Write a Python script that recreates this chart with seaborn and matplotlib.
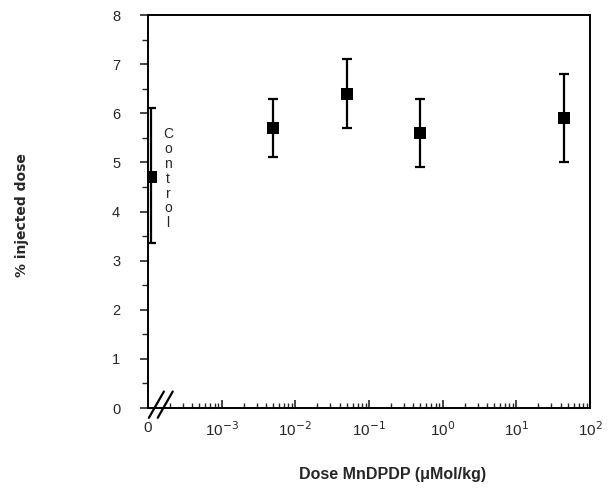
import matplotlib
matplotlib.use("Agg")
import matplotlib.pyplot as plt
import seaborn as sns
import numpy as np
import pandas as pd
from matplotlib.ticker import FixedLocator, LogLocator, NullFormatter, MultipleLocator

# Data
dose = [1.1e-4, 0.005, 0.05, 0.5, 45.0]          # control drawn at the axis break
pct_dose = [4.7, 5.7, 6.4, 5.6, 5.9]
err_low = [3.35, 5.1, 5.7, 4.9, 5.0]
err_high = [6.1, 6.3, 7.1, 6.3, 6.8]
x_tick_vals = [1e-4, 1e-3, 1e-2, 1e-1, 1e0, 1e1, 1e2]
x_tick_labels = ["0", "10$^{-3}$", "10$^{-2}$", "10$^{-1}$", "10$^{0}$", "10$^{1}$", "10$^{2}$"]
y_ticks = [0, 1, 2, 3, 4, 5, 6, 7, 8]

df = pd.DataFrame({"dose": dose, "pct": pct_dose})

sns.set_style("ticks")
plt.rcParams['font.family'] = ['Liberation Sans', 'DejaVu Sans']

fig = plt.figure(figsize=(6.11, 4.9), dpi=100)
ax = fig.add_axes([0.2422, 0.1673, 0.7234, 0.802])

yerr = [np.array(pct_dose) - np.array(err_low), np.array(err_high) - np.array(pct_dose)]
ax.errorbar(dose, pct_dose, yerr=yerr, fmt="none", ecolor="black",
            elinewidth=1.6, capsize=3.5, capthick=1.6, zorder=2)
sns.scatterplot(data=df, x="dose", y="pct", marker="s", s=70, color="black",
                edgecolor="black", linewidth=0, ax=ax, zorder=3, legend=False)

ax.set_xscale("log")
ax.set_xlim(1e-4, 1e2)
ax.set_ylim(0, 8)

ax.xaxis.set_major_locator(FixedLocator(x_tick_vals))
ax.set_xticklabels(x_tick_labels, fontsize=11)
ax.xaxis.set_minor_locator(LogLocator(base=10, subs=np.arange(2, 10), numticks=20))
ax.xaxis.set_minor_formatter(NullFormatter())
ax.tick_params(axis="x", which="major", direction="in", length=6, width=1.2, pad=9)
ax.tick_params(axis="x", which="minor", direction="in", length=3.5, width=1.0)

ax.set_yticks(y_ticks)
ax.set_yticklabels([str(v) for v in y_ticks], fontsize=10.5)
ax.yaxis.set_minor_locator(MultipleLocator(0.5))
ax.tick_params(axis="y", which="major", direction="out", length=6, width=1.2, pad=14)
ax.tick_params(axis="y", which="minor", direction="out", length=4, width=1.0)

for side in ["left", "right", "top", "bottom"]:
    ax.spines[side].set_visible(True)
    ax.spines[side].set_linewidth(1.4)
    ax.spines[side].set_color("black")

# axis break marks "//"
for dx in (0.0, 0.02):
    ax.plot([0.002 + dx, 0.036 + dx], [-0.025, 0.042], transform=ax.transAxes,
            color="black", lw=1.6, clip_on=False, zorder=5)

# vertical "Control" label
ax.text(1.87e-4, 5.72, "\n".join("Control"), fontsize=10, ha="center", va="top",
        linespacing=1.08)

ax.set_xlabel("Dose MnDPDP (\u03bcMol/kg)", fontsize=11.5, fontweight="bold")
ax.xaxis.set_label_coords(0.554, -0.15)
ax.set_ylabel("% injected dose", fontsize=10, fontweight="bold",
              family=["DejaVu Sans"])
ax.yaxis.set_label_coords(-0.27, 0.49)

fig.savefig("out.png", dpi=100)
